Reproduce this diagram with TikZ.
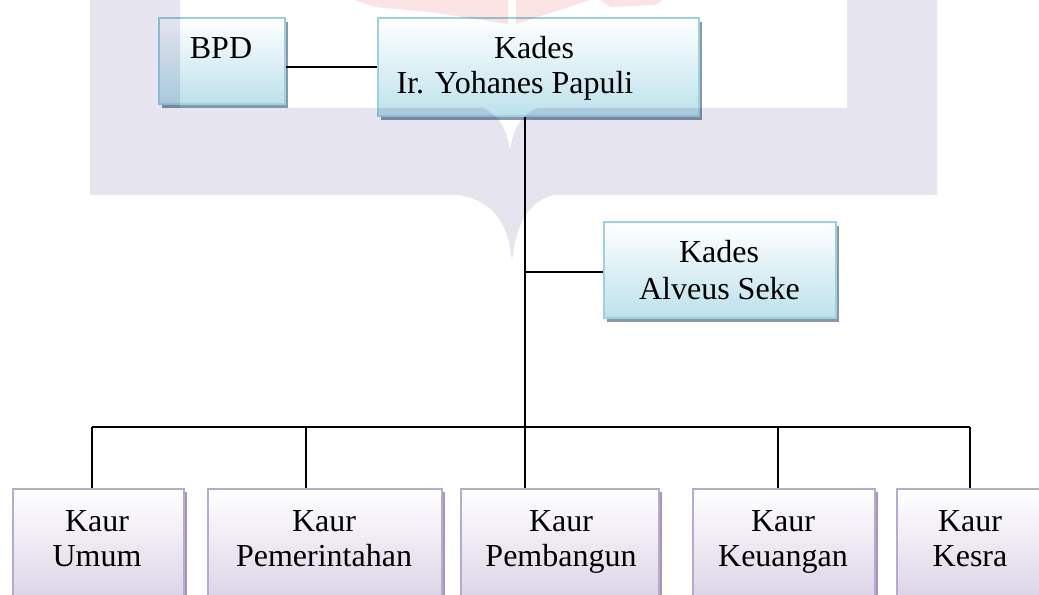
\documentclass[tikz,border=0pt]{standalone}
\usepackage{fontspec}
\setmainfont{Liberation Serif}
\usetikzlibrary{shadows}
\definecolor{bluebd}{HTML}{9CD2DF}
\definecolor{bluebot}{HTML}{BCE1EB}
\definecolor{blueshd}{HTML}{8698A9}
\definecolor{purbd}{HTML}{B8A9D1}
\definecolor{purbot}{HTML}{D2C8E0}
\definecolor{purshd}{HTML}{A597BC}
\definecolor{wmlav}{HTML}{E5E4EF}
\definecolor{wmpink}{HTML}{FBE2E3}
\begin{document}
\begin{tikzpicture}[x=0.75pt,y=-0.75pt,
  box/.style={rectangle, inner sep=0pt, anchor=north west, line width=1.5pt},
  bluebox/.style={box, draw=bluebd, top color=white, bottom color=bluebot,
    drop shadow={shadow xshift=2.5pt, shadow yshift=-3pt, fill=blueshd, opacity=1}},
  purbox/.style={box, draw=purbd, top color=white, bottom color=purbot,
    drop shadow={shadow xshift=2pt, shadow yshift=-2pt, fill=purshd, opacity=1}},
  lbl/.style={anchor=base, inner sep=0pt, font=\fontsize{24}{28}\selectfont},
  conn/.style={line width=1.2pt, black}]
\path[use as bounding box] (0,0) rectangle (1039,595);
\clip (0,0) rectangle (1039,595);
\fill[white] (0,0) rectangle (1039,595);

% boxes
\node[bluebox, minimum width=94.5pt, minimum height=64.5pt] (bpd) at (158,17) {};
\node[bluebox, minimum width=240.75pt, minimum height=73.5pt] (kades) at (377,17) {};
\node[bluebox, minimum width=174pt, minimum height=72pt] (alveus) at (603,221) {};
\node[purbox, minimum width=128.25pt, minimum height=105pt] (umum) at (12,488) {};
\node[purbox, minimum width=175.5pt, minimum height=105pt] (pemerintahan) at (207,488) {};
\node[purbox, minimum width=148.5pt, minimum height=105pt] (pembangun) at (460,488) {};
\node[purbox, minimum width=136.5pt, minimum height=105pt] (keuangan) at (692,488) {};
\node[purbox, minimum width=111pt, minimum height=105pt] (kesra) at (896,488) {};

% labels
\node[lbl] (tbpd) at (221,59) {BPD};
\node[lbl] (tkades1) at (534,59) {Kades};
\node[lbl] (tkades2) at (515,94) {Ir. Yohanes Papuli};
\node[lbl] (talv1) at (719,263) {Kades};
\node[lbl] (talv2) at (719.5,300) {Alveus Seke};
\node[lbl] (tum1) at (97,531) {Kaur};
\node[lbl] (tum2) at (97,566) {Umum};
\node[lbl] (tpm1) at (324,531) {Kaur};
\node[lbl] (tpm2) at (324,566) {Pemerintahan};
\node[lbl] (tpb1) at (561,531) {Kaur};
\node[lbl] (tpb2) at (561,566) {Pembangun};
\node[lbl] (tku1) at (783,531) {Kaur};
\node[lbl] (tku2) at (783,566) {Keuangan};
\node[lbl] (tks1) at (970,531) {Kaur};
\node[lbl] (tks2) at (970,566) {Kesra};

% connectors
\coordinate (trunk) at (525,427);
\coordinate (aj) at (525,272);
\coordinate (b1) at (92,427);
\coordinate (b2) at (306,427);
\coordinate (b4) at (778,427);
\coordinate (b5) at (970,427);
\draw[conn] (kades.west) -- (kades.west -| bpd.east);
\draw[conn] (kades.south -| trunk) -- (trunk);
\draw[conn] (aj) -- (aj -| alveus.west);
\draw[conn] (b1) -- (b5);
\draw[conn] (b1) -- (b1 |- umum.north);
\draw[conn] (b2) -- (b2 |- pemerintahan.north);
\draw[conn] (trunk) -- (trunk |- pembangun.north);
\draw[conn] (b4) -- (b4 |- keuangan.north);
\draw[conn] (b5) -- (b5 |- kesra.north);

% faint background watermark band
\begin{scope}[blend mode=multiply]
\fill[wmlav, even odd rule]
  (90,0) -- (937,0) -- (937,195) -- (553,195)
  .. controls (525,203) and (515,230) .. (512,262)
  .. controls (509,230) and (499,203) .. (460,195) -- (90,195) -- cycle
  (180,0) -- (847,0) -- (847,108) -- (537,108)
  .. controls (520,116) and (513,130) .. (510,150)
  .. controls (507,130) and (500,116) .. (483,108) -- (180,108) -- cycle;
\fill[wmpink] (355,0) -- (508,0) -- (508,24) -- (430,12) -- (375,7) -- cycle;
\fill[wmpink] (516,0) -- (590,0) -- (516,24) -- cycle;
\fill[wmpink] (600,0) -- (663,0) -- (655,5) -- (610,7) -- cycle;
\end{scope}
\end{tikzpicture}
\end{document}
